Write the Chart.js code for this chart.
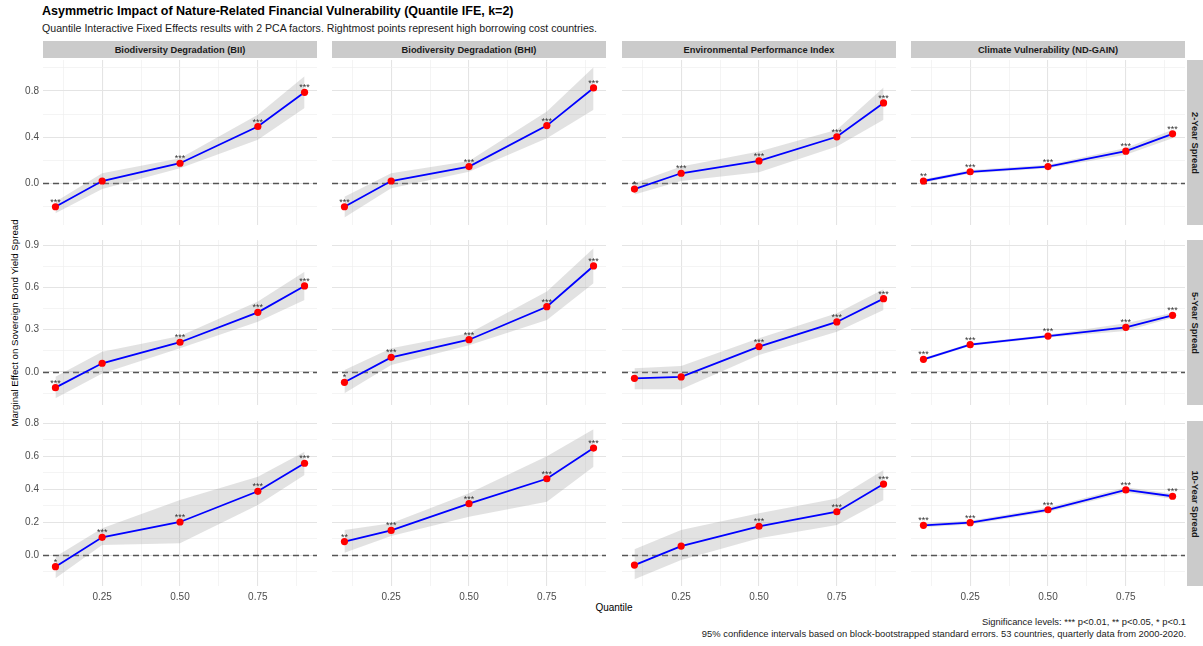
<!DOCTYPE html>
<html>
<head>
<meta charset="utf-8">
<script src="https://cdn.jsdelivr.net/npm/chart.js@4.4.0/dist/chart.umd.min.js"></script>
<style>
  body { margin: 0; width: 1203px; height: 646px; background: #fff; position: relative; overflow: hidden;
         font-family: "Liberation Sans", Arial, sans-serif; }
  .box { position: absolute; }
  .strip { position: absolute; background: #cbcbcb; color: #1a1a1a; font-weight: bold; font-size: 9.3px;
           display: flex; align-items: center; justify-content: center; }
  .rstrip span { transform: rotate(90deg); white-space: nowrap; }
  .txt { position: absolute; white-space: nowrap; }
</style>
</head>
<body>
<div class="txt" style="left:42px;top:4px;font-size:12.5px;font-weight:bold;color:#000">Asymmetric Impact of Nature-Related Financial Vulnerability (Quantile IFE, k=2)</div>
<div class="txt" style="left:42px;top:22px;font-size:10.6px;color:#1a1a1a">Quantile Interactive Fixed Effects results with 2 PCA factors. Rightmost points represent high borrowing cost countries.</div>
<div class="txt" style="left:14px;top:323px;font-size:9.7px;color:#000;transform:translate(-50%,-50%) rotate(-90deg)">Marginal Effect on Sovereign Bond Yield Spread</div>
<div class="txt" style="left:614px;top:602px;font-size:10px;color:#000;transform:translateX(-50%)">Quantile</div>
<div class="txt" style="right:17px;top:616px;font-size:9.4px;color:#1a1a1a;text-align:right;line-height:12px">Significance levels: *** p&lt;0.01, ** p&lt;0.05, * p&lt;0.1<br>95% confidence intervals based on block-bootstrapped standard errors. 53 countries, quarterly data from 2000-2020.</div>
<script>
// facets
const quantiles = [0.1, 0.25, 0.5, 0.75, 0.9];
const measures = ["Biodiversity Degradation (BII)", "Biodiversity Degradation (BHI)", "Environmental Performance Index", "Climate Vulnerability (ND-GAIN)"];
const spreads = ["2-Year Spread", "5-Year Spread", "10-Year Spread"];
const xTicks = [0.25, 0.5, 0.75];
const xMinor = [0.125, 0.375, 0.625, 0.875];

// 2-year spread: one inner array per measure
const est2y = [[-0.203, 0.02, 0.174, 0.492, 0.788], [-0.203, 0.02, 0.145, 0.50, 0.826], [-0.05, 0.087, 0.194, 0.403, 0.696], [0.02, 0.10, 0.145, 0.278, 0.429]];
const lo2y  = [[-0.26, -0.05, 0.13, 0.377, 0.652], [-0.296, -0.043, 0.10, 0.39, 0.637], [-0.096, 0.02, 0.096, 0.318, 0.55], [0.005, 0.085, 0.13, 0.248, 0.39]];
const hi2y  = [[-0.16, 0.087, 0.217, 0.594, 0.927], [-0.116, 0.087, 0.194, 0.623, 1.005], [0.0, 0.145, 0.275, 0.463, 0.83], [0.035, 0.115, 0.16, 0.305, 0.465]];
const sig2y = [["***", "", "***", "***", "***"], ["***", "", "***", "***", "***"], ["*", "***", "***", "***", "***"], ["**", "***", "***", "***", "***"]];

// 5-year spread
const est5y = [[-0.111, 0.062, 0.211, 0.423, 0.61], [-0.073, 0.104, 0.229, 0.463, 0.752], [-0.045, -0.035, 0.18, 0.355, 0.52], [0.09, 0.194, 0.255, 0.317, 0.402]];
const lo5y  = [[-0.187, -0.01, 0.168, 0.357, 0.51], [-0.151, 0.05, 0.19, 0.369, 0.629], [-0.123, -0.123, 0.12, 0.286, 0.44], [0.08, 0.184, 0.245, 0.29, 0.385]];
const hi5y  = [[-0.033, 0.144, 0.255, 0.50, 0.711], [0.014, 0.168, 0.274, 0.57, 0.877], [0.026, 0.043, 0.239, 0.416, 0.587], [0.10, 0.204, 0.265, 0.345, 0.42]];
const sig5y = [["***", "", "***", "***", "***"], ["*", "***", "***", "***", "***"], ["", "", "***", "***", "***"], ["***", "***", "***", "***", "***"]];

// 10-year spread
const est10y = [[-0.069, 0.109, 0.202, 0.388, 0.558], [0.083, 0.151, 0.313, 0.464, 0.65], [-0.059, 0.056, 0.176, 0.264, 0.432], [0.182, 0.198, 0.276, 0.396, 0.358]];
const lo10y  = [[-0.139, 0.062, 0.073, 0.305, 0.487], [0.016, 0.117, 0.234, 0.325, 0.537], [-0.145, -0.028, 0.103, 0.184, 0.335], [0.17, 0.186, 0.262, 0.38, 0.343]];
const hi10y  = [[-0.008, 0.164, 0.335, 0.476, 0.627], [0.153, 0.194, 0.376, 0.60, 0.764], [0.036, 0.153, 0.255, 0.345, 0.517], [0.194, 0.21, 0.29, 0.412, 0.373]];
const sig10y = [["*", "***", "***", "***", "***"], ["**", "***", "***", "***", "***"], ["", "", "***", "***", "***"], ["***", "***", "***", "***", "***"]];

// free y scales per row
const yMajor = [[0, 0.4, 0.8], [0, 0.3, 0.6, 0.9], [0, 0.2, 0.4, 0.6, 0.8]];
const yMinorT = [[-0.2, 0.2, 0.6, 1.0], [-0.15, 0.15, 0.45, 0.75], [-0.1, 0.1, 0.3, 0.5, 0.7]];
const yRange = [[-0.361, 1.068], [-0.234, 0.936], [-0.186, 0.814]];

const rows = [[est2y, lo2y, hi2y, sig2y], [est5y, lo5y, hi5y, sig5y], [est10y, lo10y, hi10y, sig10y]];

// layout of the panels
const colLeft = [43, 332, 622, 911];
const rowTop = [60, 240, 421];
const panelW = 274, panelH = 165;
const padTop = 6; // room above the plot area so the top tick label is not clipped
const font = '"Liberation Sans", Arial, sans-serif';

const zeroLine = {
  id: 'zeroLine',
  beforeDatasetsDraw(chart) {
    const { ctx, chartArea: a, scales: { y } } = chart;
    const py = Math.round(y.getPixelForValue(0)) + 0.5;
    ctx.save();
    ctx.strokeStyle = '#555555';
    ctx.lineWidth = 1.3;
    ctx.setLineDash([6, 4]);
    ctx.beginPath();
    ctx.moveTo(a.left, py);
    ctx.lineTo(a.right, py);
    ctx.stroke();
    ctx.restore();
  }
};

const starLabels = {
  id: 'starLabels',
  afterDatasetsDraw(chart, args, opts) {
    const { ctx, scales: { x, y } } = chart;
    ctx.save();
    ctx.font = '9px ' + font;
    ctx.fillStyle = '#333333';
    ctx.textAlign = 'center';
    ctx.textBaseline = 'alphabetic';
    opts.labels.forEach((s, i) => {
      if (s) ctx.fillText(s, x.getPixelForValue(quantiles[i]), y.getPixelForValue(opts.values[i]) - 2);
    });
    ctx.restore();
  }
};

const pts = (arr) => quantiles.map((q, i) => ({ x: q, y: arr[i] }));
const near = (list, v) => list.some(m => Math.abs(m - v) < 1e-9);

// keep every panel's plot area the same size, whatever labels it shows
function noPad(axis) {
  axis.paddingTop = 0;
  axis.paddingBottom = 0;
  axis.paddingLeft = 0;
  axis.paddingRight = 0;
}

function makePanel(r, c) {
  const [est, lo, hi, sig] = rows[r];
  const left = c === 0 ? 0 : colLeft[c];
  const w = c === 0 ? colLeft[0] + panelW : panelW;
  const h = padTop + panelH + (r === 2 ? 22 : 0);
  const box = document.createElement('div');
  box.className = 'box';
  box.style.cssText = `left:${left}px;top:${rowTop[r] - padTop}px;width:${w}px;height:${h}px`;
  const cv = document.createElement('canvas');
  box.appendChild(cv);
  document.body.appendChild(box);

  const yTicks = yMajor[r].concat(yMinorT[r]).sort((a, b) => a - b);
  const xAll = xTicks.concat(xMinor).sort((a, b) => a - b);

  new Chart(cv, {
    type: 'line',
    data: {
      datasets: [
        { data: pts(est[c]), order: 0, borderColor: '#0000ff', borderWidth: 1.8,
          pointRadius: 3.6, pointBackgroundColor: '#ff0000', pointBorderWidth: 0, fill: false },
        { data: pts(lo[c]), order: 2, borderWidth: 0, pointRadius: 0, fill: false },
        { data: pts(hi[c]), order: 1, borderWidth: 0, pointRadius: 0, fill: 1,
          backgroundColor: 'rgba(150,150,150,0.28)' }
      ]
    },
    options: {
      animation: false,
      responsive: true,
      maintainAspectRatio: false,
      layout: { padding: { top: padTop, left: 0, right: 0, bottom: 0 }, autoPadding: false },
      plugins: {
        legend: { display: false },
        tooltip: { enabled: false },
        starLabels: { labels: sig[c], values: est[c] }
      },
      scales: {
        x: {
          type: 'linear', min: 0.06, max: 0.94,
          border: { display: false },
          grid: {
            drawTicks: false,
            color: ctx => near(xTicks, ctx.tick.value) ? '#e4e4e4' : '#efefef',
            lineWidth: ctx => near(xTicks, ctx.tick.value) ? 1.1 : 0.7
          },
          afterBuildTicks: axis => { axis.ticks = xAll.map(v => ({ value: v })); },
          afterFit: axis => { axis.height = r === 2 ? 22 : 0; noPad(axis); },
          ticks: {
            display: r === 2, autoSkip: false, maxRotation: 0, padding: 5,
            color: '#4d4d4d', font: { family: font, size: 10 },
            callback: v => near(xTicks, v) ? v.toFixed(2) : ''
          }
        },
        y: {
          type: 'linear', min: yRange[r][0], max: yRange[r][1],
          border: { display: false },
          grid: {
            drawTicks: false,
            color: ctx => near(yMajor[r], ctx.tick.value) ? '#e4e4e4' : '#efefef',
            lineWidth: ctx => near(yMajor[r], ctx.tick.value) ? 1.1 : 0.7
          },
          afterBuildTicks: axis => { axis.ticks = yTicks.map(v => ({ value: v })); },
          afterFit: axis => { axis.width = c === 0 ? colLeft[0] : 0; noPad(axis); },
          ticks: {
            display: c === 0, autoSkip: false, padding: 4,
            color: '#4d4d4d', font: { family: font, size: 10 },
            callback: v => near(yMajor[r], v) ? v.toFixed(1) : ''
          }
        }
      }
    },
    plugins: [zeroLine, starLabels]
  });
}

// strips
measures.forEach((m, c) => {
  const d = document.createElement('div');
  d.className = 'strip';
  d.style.cssText = `left:${colLeft[c]}px;top:41px;width:${panelW}px;height:17px`;
  d.textContent = m;
  document.body.appendChild(d);
});
spreads.forEach((s, r) => {
  const d = document.createElement('div');
  d.className = 'strip rstrip';
  d.style.cssText = `left:1187px;top:${rowTop[r]}px;width:16px;height:${panelH}px`;
  const sp = document.createElement('span');
  sp.textContent = s;
  d.appendChild(sp);
  document.body.appendChild(d);
});

for (let r = 0; r < 3; r++) {
  for (let c = 0; c < 4; c++) makePanel(r, c);
}
</script>
</body>
</html>
